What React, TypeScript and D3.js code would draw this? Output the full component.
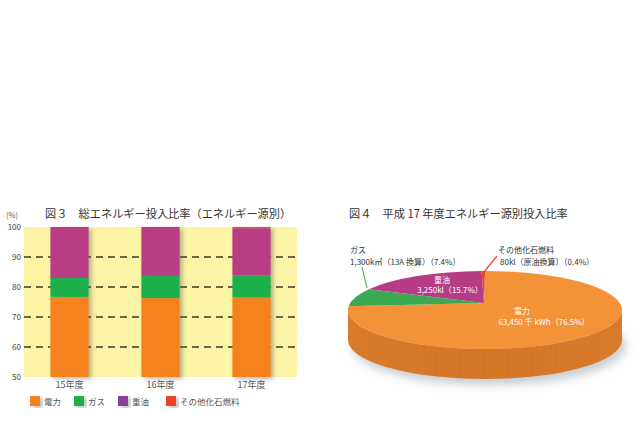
import { useEffect } from 'react';
import * as d3 from 'd3';

const years = ['15年度', '16年度', '17年度'];
const sources = ['電力', 'ガス', '重油', 'その他化石燃料'];
const electricity = [76.7, 76.3, 76.5];
const gas = [6.3, 7.4, 7.4];
const heavyOil = [17.0, 16.3, 15.7];
const otherFossil = [0.0, 0.0, 0.4];
const yTicks = [50, 60, 70, 80, 90, 100];
const gridTicks = [60, 70, 80, 90];

const pieValues = [76.5, 7.4, 15.7, 0.4];
const pieNames = ['電力', 'ガス', '重油', 'その他化石燃料'];

const barColors = ['#F5821F', '#1DB04B', '#B83C85', '#E9452B'];
const legendColors = ['#F5821F', '#1DB04B', '#8A3F9B', '#E9452B'];
const pieColors = ['#F39236', '#3BAA52', '#B63C86', '#E9452B'];

const FONT = '"Noto Sans CJK JP", "Noto Sans", sans-serif';

function BarChart() {
  const x = d3.scaleBand().domain(years).range([24, 297]).paddingInner(0.58).paddingOuter(0.29);
  const y = d3.scaleLinear().domain([50, 100]).range([377, 227]);
  const series = [electricity, gas, heavyOil, otherFossil];
  const rows = years.map((yr, i) => {
    const r: any = { year: yr };
    sources.forEach((s, k) => (r[s] = series[k][i]));
    return r;
  });
  const stacked = d3.stack().keys(sources)(rows);

  return (
    <g fontFamily={FONT}>
      <text x={45} y={218} fontSize={11.2} fill="#333">図３　総エネルギー投入比率（エネルギー源別）</text>
      <text x={6} y={218} fontSize={7.5} fill="#555">(%)</text>
      <rect x={24} y={y(100)} width={273} height={y(50) - y(100)} fill="#FCF5A6" />
      {gridTicks.map((t) => (
        <line key={t} x1={24} x2={297} y1={y(t)} y2={y(t)} stroke="#3a3a2a" strokeWidth={1.3} strokeDasharray="7,5" />
      ))}
      {yTicks.map((t) => (
        <text key={t} x={21} y={y(t) + 3} fontSize={8} textAnchor="end" fill="#444">{t}</text>
      ))}
      <g filter="url(#barShadow)">
        {stacked.map((layer, k) =>
          layer.map((d, i) => {
            const top = Math.min(d[1], 100);
            const bottom = Math.max(d[0], 50);
            if (top <= bottom) return null;
            return (
              <rect key={`${k}-${i}`} x={x(years[i])} width={x.bandwidth()} y={y(top)} height={y(bottom) - y(top)} fill={barColors[k]} />
            );
          })
        )}
      </g>
      {years.map((yr) => (
        <text key={yr} x={(x(yr) as number) + x.bandwidth() / 2} y={388} fontSize={9} textAnchor="middle" fill="#555">{yr}</text>
      ))}
      {sources.map((s, k) => {
        const lx = [30, 74, 118, 166][k];
        return (
          <g key={s}>
            <rect x={lx} y={396} width={10} height={10} fill={legendColors[k]} filter="url(#barShadow)" />
            <text x={lx + 14} y={404.5} fontSize={8.5} fill="#555">{s}</text>
          </g>
        );
      })}
    </g>
  );
}

function PieChart() {
  const cx = 485;
  const cy = 310;
  const rx = 137;
  const ry = 39;
  const depth = 30;
  const vx = 484;
  const vy = 303;
  const arcs = d3.pie<number>().sort(null).startAngle(0).endAngle(2 * Math.PI)(pieValues);
  const pt = (a: number) => [cx + rx * Math.sin(a), cy - ry * Math.cos(a)];

  const side = `M${cx - rx},${cy} A${rx},${ry} 0 0 0 ${cx + rx},${cy} L${cx + rx},${cy + depth} A${rx},${ry} 0 0 1 ${cx - rx},${cy + depth} Z`;
  const stripes = d3.range(cx - rx + 4, cx + rx, 6);

  return (
    <g fontFamily={FONT}>
      <text x={349} y={218} fontSize={11.2} fill="#333">図４　平成 17 年度エネルギー源別投入比率</text>
      <ellipse cx={cx + 4} cy={cy + depth + 6} rx={rx} ry={ry} fill="#9aa3ad" opacity={0.55} filter="url(#pieShadow)" />
      <path d={side} fill="url(#sideGrad)" />
      <clipPath id="sideClip"><path d={side} /></clipPath>
      <g clipPath="url(#sideClip)">
        {stripes.map((sx, i) => (
          <line key={i} x1={sx} x2={sx} y1={cy} y2={cy + ry + depth} stroke="#c46d22" strokeWidth={0.5} opacity={0.18} />
        ))}
      </g>
      {arcs.map((a, i) => {
        const [x0, y0] = pt(a.startAngle);
        const [x1, y1] = pt(a.endAngle);
        const large = a.endAngle - a.startAngle > Math.PI ? 1 : 0;
        return (
          <path key={i} d={`M${vx},${vy} L${x0},${y0} A${rx},${ry} 0 ${large} 1 ${x1},${y1} Z`} fill={pieColors[i]} />
        );
      })}
      <g fill="#fff" fontSize={8}>
        <text x={442} y={283} textAnchor="middle">{pieNames[2]}</text>
        <text x={450} y={293} textAnchor="middle">3,250kl（{pieValues[2]}%）</text>
        <text x={522} y={314} textAnchor="middle">{pieNames[0]}</text>
        <text x={544} y={325} textAnchor="middle">63,450 千 kWh（{pieValues[0]}%）</text>
      </g>
      <g fill="#333" fontSize={8}>
        <text x={350} y={253}>{pieNames[1]}</text>
        <text x={350} y={265}>1,300k㎥（13A 換算）（{pieValues[1]}%）</text>
        <text x={498} y={253}>{pieNames[3]}</text>
        <text x={500} y={265}>80kl（原油換算）（{pieValues[3]}%）</text>
      </g>
      <line x1={362} y1={267} x2={367} y2={288} stroke="#3BAA52" strokeWidth={1} />
      <line x1={497} y1={256} x2={484} y2={272} stroke="#E9452B" strokeWidth={1.2} />
    </g>
  );
}

export default function App() {
  useEffect(() => {
    document.body.style.margin = '0';
  }, []);
  return (
    <svg width={640} height={423} style={{ display: 'block', background: '#fff' }}>
      <defs>
        <filter id="barShadow" x="-30%" y="-10%" width="160%" height="130%">
          <feDropShadow dx={3} dy={2} stdDeviation={2} floodColor="#555" floodOpacity={0.4} />
        </filter>
        <filter id="pieShadow" x="-20%" y="-50%" width="140%" height="200%">
          <feGaussianBlur stdDeviation={5} />
        </filter>
        <linearGradient id="sideGrad" x1="0" x2="1" y1="0" y2="0">
          <stop offset="0" stopColor="#DA7B2C" />
          <stop offset="0.5" stopColor="#D47727" />
          <stop offset="1" stopColor="#DA7B2C" />
        </linearGradient>
      </defs>
      <BarChart />
      <PieChart />
    </svg>
  );
}
